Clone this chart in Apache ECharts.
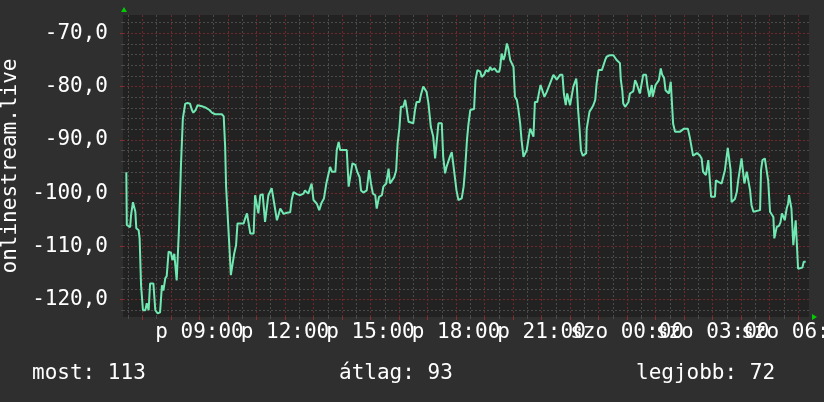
<!DOCTYPE html>
<html>
<head>
<meta charset="utf-8">
<script src="https://cdn.jsdelivr.net/npm/echarts@6/dist/echarts.min.js"></script>
<style>
html,body{margin:0;padding:0;background:#2f2f2f;}
#chart{width:824px;height:402px;}
</style>
</head>
<body>
<div id="chart"></div>
<script>
// time in minutes since Friday 00:00
var times = [386,387,394,396,400,403,405,407,412,414,417,421,426,429,433,436,443,447,452,457,461,464,468,471,475,480,483,487,490,492,496,497,501,503,505,508,510,515,520,524,527,532,536,540,545,552,556,561,566,573,587,591,594,596,599,603,606,610,613,617,620,626,633,636,640,643,647,654,657,661,664,668,673,678,682,685,689,692,696,699,703,706,710,713,717,724,731,734,738,745,752,759,762,769,773,776,780,787,792,797,802,807,811,815,819,826,829,833,836,850,854,857,862,868,872,877,880,885,892,897,901,905,910,913,918,924,927,933,938,941,945,950,954,957,961,964,969,973,976,980,990,994,997,1003,1006,1011,1015,1018,1022,1027,1032,1036,1039,1043,1050,1053,1057,1060,1064,1067,1071,1074,1078,1081,1085,1089,1092,1096,1099,1103,1106,1110,1118,1121,1125,1131,1134,1139,1143,1148,1152,1155,1161,1166,1171,1173,1176,1180,1183,1187,1190,1194,1197,1201,1204,1208,1211,1215,1218,1222,1225,1229,1232,1236,1239,1243,1246,1251,1255,1258,1262,1266,1271,1274,1278,1281,1285,1292,1299,1304,1307,1311,1314,1317,1320,1324,1327,1331,1333,1334,1337,1340,1343,1347,1354,1355,1361,1366,1369,1373,1376,1380,1387,1390,1394,1397,1404,1408,1411,1415,1418,1422,1425,1427,1430,1432,1436,1439,1443,1446,1453,1457,1460,1464,1467,1471,1474,1480,1483,1485,1487,1490,1492,1494,1497,1500,1504,1507,1511,1514,1518,1521,1528,1532,1534,1537,1541,1551,1560,1568,1572,1579,1587,1593,1597,1600,1606,1609,1611,1614,1617,1625,1627,1632,1639,1643,1646,1650,1652,1655,1658,1660,1664,1667,1671,1674,1678,1681,1685,1687,1689,1692,1695,1699,1702,1706,1720,1722,1725,1730,1734,1737,1741,1744,1748,1750,1753,1755,1760,1763,1766,1769,1772,1776,1779,1781,1784,1786,1790,1792,1795,1798,1800,1809,1812,1816];
var values = [-96.1,-106.0,-106.4,-104.1,-101.7,-101.7,-103.5,-106.6,-107.0,-108.5,-117.3,-122.0,-122.0,-120.7,-122.0,-117.0,-117.0,-122.0,-122.6,-122.4,-117.3,-118.3,-116.0,-115.6,-111.0,-111.2,-112.6,-111.4,-111.4,-116.4,-116.4,-106.4,-94.8,-94.7,-86.0,-85.8,-83.2,-83.1,-83.2,-84.4,-84.9,-84.4,-83.5,-83.2,-83.7,-83.9,-84.1,-84.4,-84.9,-85.2,-85.2,-85.6,-91.3,-98.8,-98.8,-110.1,-115.4,-115.4,-111.4,-109.8,-105.7,-105.7,-105.7,-104.8,-103.8,-103.7,-107.6,-107.6,-100.4,-100.6,-103.8,-100.4,-100.2,-105.4,-105.2,-100.4,-100.6,-99.1,-99.1,-102.9,-105.1,-104.2,-102.9,-102.7,-103.9,-103.7,-103.6,-101.3,-99.8,-100.2,-100.4,-100.1,-99.5,-100.1,-100.4,-98.2,-101.3,-102.0,-103.2,-101.8,-101.0,-98.2,-98.2,-95.1,-96.0,-96.0,-91.9,-90.4,-91.9,-91.9,-98.8,-98.8,-94.4,-94.7,-96.0,-97.0,-99.5,-99.9,-99.5,-95.7,-98.2,-100.1,-100.4,-102.9,-100.7,-100.4,-98.8,-98.2,-95.4,-98.2,-98.5,-97.0,-95.7,-90.7,-87.6,-83.8,-83.8,-82.5,-84.1,-86.6,-86.9,-84.2,-82.9,-82.9,-81.6,-80.0,-79.7,-81.0,-83.2,-87.6,-89.4,-93.5,-93.5,-86.9,-86.9,-93.2,-96.3,-95.1,-95.1,-93.2,-92.3,-94.4,-94.4,-99.5,-101.3,-101.6,-101.0,-98.8,-95.7,-90.1,-87.2,-84.4,-84.2,-78.8,-76.9,-77.2,-78.2,-77.8,-76.9,-77.2,-76.3,-76.9,-76.6,-77.2,-77.2,-76.3,-73.8,-75.0,-74.1,-71.9,-72.8,-75.0,-75.3,-76.3,-81.9,-82.5,-84.1,-86.9,-90.1,-93.2,-93.2,-91.9,-90.1,-87.9,-87.6,-89.4,-82.9,-82.9,-81.0,-79.7,-79.7,-81.9,-81.0,-81.0,-79.4,-79.4,-77.8,-78.7,-77.8,-77.8,-81.3,-83.5,-81.3,-81.3,-83.5,-83.2,-80.0,-80.0,-78.5,-79.4,-84.4,-87.9,-92.0,-93.0,-92.5,-88.0,-84.7,-84.0,-83.5,-82.5,-79.4,-76.9,-76.9,-76.6,-75.0,-74.4,-74.1,-74.4,-74.1,-74.4,-75.0,-75.3,-75.6,-78.8,-80.7,-83.2,-83.8,-83.8,-82.9,-81.3,-80.9,-78.8,-79.4,-79.4,-81.3,-81.0,-77.8,-77.8,-80.0,-80.3,-81.9,-82.2,-79.7,-81.9,-82.2,-79.7,-79.4,-78.8,-76.6,-77.8,-78.4,-80.7,-81.3,-79.1,-79.4,-87.0,-88.5,-88.5,-87.9,-87.9,-89.5,-93.0,-92.5,-92.9,-93.5,-96.0,-96.6,-96.6,-93.8,-93.8,-100.7,-100.7,-97.6,-97.9,-98.2,-97.9,-95.7,-95.4,-91.5,-91.5,-95.7,-101.7,-101.7,-101.1,-99.8,-97.6,-97.3,-93.5,-93.8,-98.2,-97.3,-96.0,-96.3,-99.5,-102.3,-103.5,-103.2,-95.7,-93.8,-93.5,-93.8,-97.6,-103.5,-103.5,-104.5,-108.5,-108.2,-106.4,-106.1,-105.5,-103.8,-103.8,-105.1,-102.9,-102.0,-100.4,-100.4,-102.9,-109.8,-110.1,-105.1,-105.1,-114.2,-114.0,-112.9,-112.9];

var xMin = 379, xMax = 1823;
var yMin = -123.27, yMax = -66.56;
var xMajorTicks = [420,480,540,600,660,720,780,840,900,960,1020,1080,1140,1200,1260,1320,1380,1440,1500,1560,1620,1680,1740,1800];
var xMinorTicks = [390,450,510,570,630,690,750,810,870,930,990,1050,1110,1170,1230,1290,1350,1410,1470,1530,1590,1650,1710,1770];
var xLabelTicks = [540,720,900,1080,1260,1440,1620,1800];
var xLabels = ['p 09:00','p 12:00','p 15:00','p 18:00','p 21:00','szo 00:00','szo 03:00','szo 06:00'];
var yMajorTicks = [-120,-110,-100,-90,-80,-70];
var yMinorTicks = [-122,-118,-116,-114,-112,-108,-106,-104,-102,-98,-96,-94,-92,-88,-86,-84,-82,-78,-76,-74,-72,-68];
var yAxisTitle = 'onlinestream.live';
var summary = [['most: 113'],['átlag: 93'],['legjobb: 72']];

var FONT = '"DejaVu Sans Mono", monospace';
var RED = '#6e2a2a';
var GREY = '#4b4b4b';
var chart = echarts.init(document.getElementById('chart'), null, {renderer:'canvas'});
var data = times.map(function(t, i){ return [t, values[i]]; });

function labelFmt(v){ var i = xLabelTicks.indexOf(v); return i >= 0 ? xLabels[i] : ''; }
// one label per axis so overlapping labels are all drawn, later ones on top
function labelAxis(vals){
  return {type:'value', min:xMin, max:xMax, position:'bottom',
    axisLine:{show:false}, axisTick:{show:false}, splitLine:{show:false},
    axisLabel:{show:true, customValues:vals, margin:5, color:'#ffffff', fontFamily:FONT, fontSize:21,
      hideOverlap:false, showMinLabel:true, showMaxLabel:true, formatter:labelFmt}};
}

var xAxes = [
  {type:'value', min:xMin, max:xMax, position:'bottom',
   axisLine:{show:false},
   axisTick:{show:true, customValues:xMinorTicks, length:2, lineStyle:{color:GREY}},
   axisLabel:{show:false},
   splitLine:{show:true, lineStyle:{color:GREY, type:[2,2], width:1}}},
  {type:'value', min:xMin, max:xMax, position:'bottom',
   axisLine:{show:false},
   axisTick:{show:true, customValues:xMajorTicks, length:3, lineStyle:{color:'#8a2f2f'}},
   axisLabel:{show:false},
   splitLine:{show:true, lineStyle:{color:RED, type:[2,2], width:1}}}
].concat(xLabelTicks.map(function(v){ return labelAxis([v]); }));

var option = {
  backgroundColor: '#2f2f2f',
  animation: false,
  grid: {left: 123, right: 15, top: 15, bottom: 85, show: true, backgroundColor: '#222222', borderWidth: 0,
         containLabel: false, outerBoundsMode: 'none'},
  xAxis: xAxes,
  yAxis: [
    {type:'value', min:yMin, max:yMax, position:'left',
     axisLine:{show:false},
     axisTick:{show:true, customValues:yMinorTicks, length:2, lineStyle:{color:GREY}},
     axisLabel:{show:false},
     splitLine:{show:true, lineStyle:{color:GREY, type:[2,2], width:1}}},
    {type:'value', min:yMin, max:yMax, position:'left',
     name: yAxisTitle, nameLocation:'middle', nameGap:98,
     nameTextStyle:{color:'#ffffff', fontFamily:FONT, fontSize:21},
     axisLine:{show:false},
     axisTick:{show:true, customValues:yMajorTicks, length:3, lineStyle:{color:'#8a2f2f'}},
     axisLabel:{show:true, customValues:yMajorTicks, margin:15, color:'#ffffff', fontFamily:FONT, fontSize:21,
       hideOverlap:false,
       formatter:function(v){ return v.toFixed(1).replace('.', ','); }},
     splitLine:{show:true, lineStyle:{color:RED, type:[2,2], width:1}}}
  ],
  series: [{
    type:'line', xAxisIndex:1, yAxisIndex:1, data:data, showSymbol:false, symbol:'none',
    lineStyle:{color:'#70e8b2', width:2}, z:5
  }],
  graphic: [
    {type:'text', left:32, top:363, style:{text:summary[0][0], fill:'#ffffff', font:'21px ' + FONT}},
    {type:'text', left:339, top:363, style:{text:summary[1][0], fill:'#ffffff', font:'21px ' + FONT}},
    {type:'text', left:636, top:363, style:{text:summary[2][0], fill:'#ffffff', font:'21px ' + FONT}}
  ]
};
chart.setOption(option);

// axis arrows placed from the axis scales
var tl = chart.convertToPixel({xAxisIndex:1, yAxisIndex:1}, [xMin, yMax]);
var br = chart.convertToPixel({xAxisIndex:1, yAxisIndex:1}, [xMax, yMin]);
chart.setOption({graphic: option.graphic.concat([
  {type:'polygon', shape:{points:[[tl[0]+1,tl[1]-8],[tl[0]-2,tl[1]-3],[tl[0]+4,tl[1]-3]]}, style:{fill:'#00cc00'}, z:10},
  {type:'polygon', shape:{points:[[br[0]+8,br[1]],[br[0]+3,br[1]-3],[br[0]+3,br[1]+3]]}, style:{fill:'#00cc00'}, z:10}
])});
</script>
</body>
</html>
